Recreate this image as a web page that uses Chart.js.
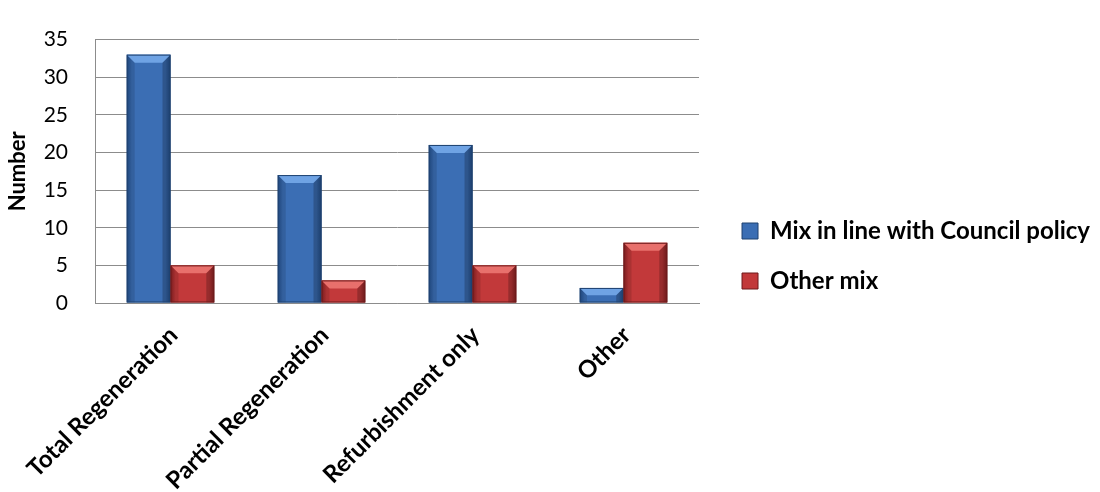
<!DOCTYPE html>
<html>
<head>
<meta charset="utf-8">
<script src="https://cdn.jsdelivr.net/npm/chart.js@4"></script>
<style>
  html, body { margin: 0; padding: 0; background: #fff; }
  #wrap { width: 1100px; height: 492px; }
</style>
</head>
<body>
<div id="wrap"><canvas id="myChart" width="1100" height="492"></canvas></div>
<script>
const categories = ['Total Regeneration', 'Partial Regeneration', 'Refurbishment only', 'Other'];
const seriesNames = ['Mix in line with Council policy', 'Other mix'];
const councilMix = [33, 17, 21, 2];
const otherMix = [5, 3, 5, 8];
const yTicks = [0, 5, 10, 15, 20, 25, 30, 35];

const FONT = 'Lato, Calibri, "Liberation Sans", sans-serif';

// blue / red shades for the bevelled bars
const shades = [
  { body: '#3b6eb4', dark: '#234f8c', light: '#6fa3e4', edge: '#1f4270' },
  { body: '#c2393a', dark: '#8c2123', light: '#e8706c', edge: '#6e1a1b' }
];

// draws a simple bevel over each bar, using the bar positions from the scales
const bevel = {
  id: 'bevel',
  afterDatasetsDraw(chart) {
    const c = chart.ctx;
    chart.data.datasets.forEach((ds, di) => {
      const s = shades[di];
      chart.getDatasetMeta(di).data.forEach(el => {
        const l = el.x - el.width / 2, r = el.x + el.width / 2;
        const t = Math.min(el.y, el.base), b = Math.max(el.y, el.base);
        const h = b - t;
        const bv = Math.min(8, h / 2);
        c.save();
        let g = c.createLinearGradient(l, 0, r, 0);
        g.addColorStop(0, s.dark);
        g.addColorStop(0.12, s.body);
        g.addColorStop(0.5, s.body);
        g.addColorStop(0.88, s.body);
        g.addColorStop(1, s.dark);
        c.fillStyle = g;
        c.fillRect(l, t, r - l, h);
        // top bevel
        c.beginPath();
        c.moveTo(l, t); c.lineTo(r, t); c.lineTo(r - bv, t + bv); c.lineTo(l + bv, t + bv); c.closePath();
        c.fillStyle = s.light;
        c.fill();
        // side bevels
        c.beginPath();
        c.moveTo(l, t); c.lineTo(l + bv, t + bv); c.lineTo(l + bv, b); c.lineTo(l, b); c.closePath();
        c.fillStyle = 'rgba(0,0,0,0.12)';
        c.fill();
        c.beginPath();
        c.moveTo(r, t); c.lineTo(r - bv, t + bv); c.lineTo(r - bv, b); c.lineTo(r, b); c.closePath();
        c.fillStyle = 'rgba(0,0,0,0.22)';
        c.fill();
        c.strokeStyle = s.edge;
        c.lineWidth = 1;
        c.strokeRect(l + 0.5, t + 0.5, r - l - 1, h - 1);
        c.restore();
      });
    });
  }
};

// nudge the legend a little to the right of the plot, as in the original
const legendShift = {
  id: 'legendShift',
  afterLayout(chart) {
    if (chart.legend) {
      chart.legend.left += 17;
      chart.legend.right += 17;
    }
  }
};

const ctx = document.getElementById('myChart');

new Chart(ctx, {
  type: 'bar',
  data: {
    labels: categories,
    datasets: [
      { label: seriesNames[0], data: councilMix, backgroundColor: shades[0].body, borderColor: shades[0].edge, borderWidth: 1 },
      { label: seriesNames[1], data: otherMix, backgroundColor: shades[1].body, borderColor: shades[1].edge, borderWidth: 1 }
    ]
  },
  options: {
    responsive: false,
    animation: false,
    layout: { padding: { top: 20, right: 17, bottom: 0, left: 0 } },
    datasets: { bar: { barPercentage: 1, categoryPercentage: 0.58 } },
    plugins: {
      tooltip: { enabled: false },
      legend: {
        position: 'right',
        align: 'center',
        maxWidth: 400,
        labels: {
          color: '#000',
          font: { family: FONT, size: 24, weight: 'bold' },
          boxWidth: 16,
          boxHeight: 16,
          padding: 26
        }
      }
    },
    scales: {
      x: {
        grid: { display: false, drawTicks: false },
        border: { display: true, color: '#8c8c8c' },
        ticks: {
          color: '#000',
          font: { family: FONT, size: 24, weight: 'bold' },
          maxRotation: 45,
          minRotation: 45,
          padding: 18,
          labelOffset: 3
        },
        afterFit(scale) {
          scale.height = 189;
          scale.paddingLeft = 0;
          scale.paddingRight = 0;
        }
      },
      y: {
        min: 0,
        max: 35,
        afterBuildTicks(scale) { scale.ticks = yTicks.map(v => ({ value: v })); },
        grid: { color: '#8c8c8c', drawTicks: false },
        border: { display: true, color: '#8c8c8c' },
        ticks: {
          color: '#000',
          font: { family: FONT, size: 21 },
          padding: 27
        },
        title: {
          display: true,
          text: 'Number',
          color: '#000',
          font: { family: FONT, size: 22, weight: 'bold' },
          padding: { top: 5, bottom: 0 }
        },
        afterFit(scale) { scale.width = 95; }
      }
    }
  },
  plugins: [bevel, legendShift]
});
</script>
</body>
</html>
